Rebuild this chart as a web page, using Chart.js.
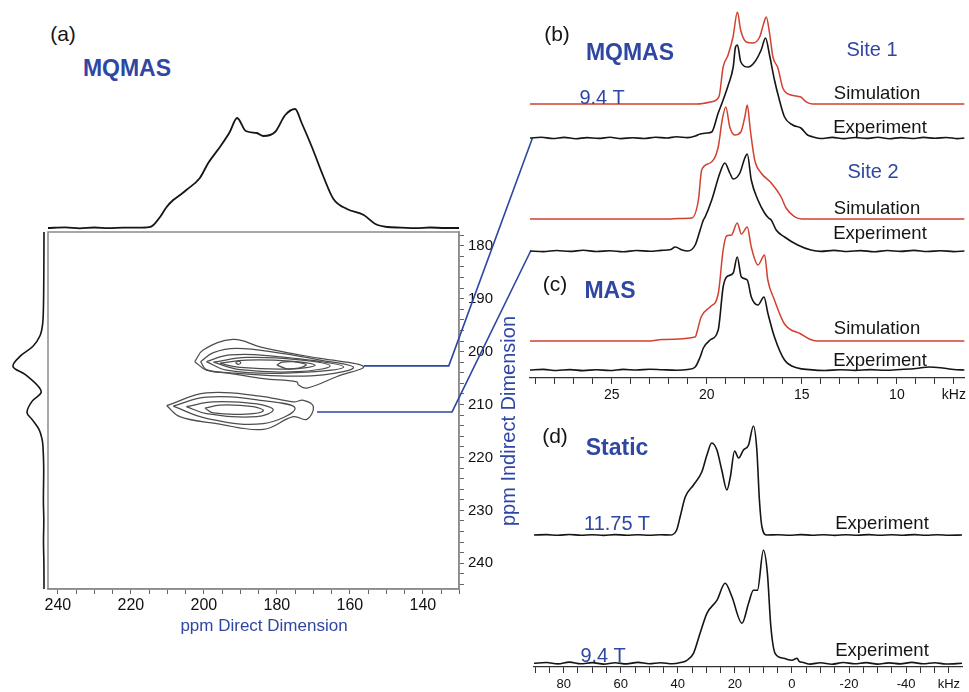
<!DOCTYPE html>
<html lang="en">
<head>
<meta charset="UTF-8">
<title>MQMAS / MAS / Static spectra</title>
<script src="https://cdn.jsdelivr.net/npm/chart.js"></script>
<style>
  body { margin: 0; background: #fff; }
  #fig { position: relative; width: 969px; height: 692px; overflow: hidden; font-family: 'Liberation Sans', Arial, Helvetica, sans-serif; }
  #fig canvas { position: absolute; }
  .t { position: absolute; transform: translate(-50%, -50%); white-space: nowrap; line-height: 1; color: #151515; }
  .blue { color: #2f47a3; }
  .bold { font-weight: bold; }
  .panel { font-size: 21px; }
  .name { font-size: 23px; }
  .trace { font-size: 18.5px; }
  .field { font-size: 20px; }
  .rot { transform: translate(-50%, -50%) rotate(-90deg); }
</style>
</head>
<body>
<div id="fig">
  <canvas id="topProj" width="411" height="130" style="left:48px;top:100px"></canvas>
  <canvas id="leftProj" width="43" height="357" style="left:5px;top:232px"></canvas>
  <canvas id="map2d" width="500" height="515" style="left:40px;top:130px"></canvas>
  <canvas id="mqmas" width="444" height="405" style="left:525px;top:0px"></canvas>
  <canvas id="static" width="444" height="292" style="left:525px;top:400px"></canvas>

  <div class="t panel" style="left:63px;top:33px">(a)</div>
  <div class="t name bold blue" style="left:127px;top:68px">MQMAS</div>
  <div class="t blue" style="left:264px;top:625px;font-size:17px">ppm Direct Dimension</div>
  <div class="t blue rot" style="left:508px;top:421px;font-size:20px">ppm Indirect Dimension</div>

  <div class="t panel" style="left:557px;top:33px">(b)</div>
  <div class="t name bold blue" style="left:630px;top:52px">MQMAS</div>
  <div class="t field blue" style="left:872px;top:49px">Site 1</div>
  <div class="t field blue" style="left:602px;top:97px">9.4 T</div>
  <div class="t trace" style="left:877px;top:93px">Simulation</div>
  <div class="t trace" style="left:880px;top:127px">Experiment</div>
  <div class="t field blue" style="left:873px;top:171px">Site 2</div>
  <div class="t trace" style="left:877px;top:208px">Simulation</div>
  <div class="t trace" style="left:880px;top:233px">Experiment</div>

  <div class="t panel" style="left:555px;top:283px">(c)</div>
  <div class="t name bold blue" style="left:610px;top:290px">MAS</div>
  <div class="t trace" style="left:877px;top:328px">Simulation</div>
  <div class="t trace" style="left:880px;top:360px">Experiment</div>

  <div class="t panel" style="left:555px;top:435px">(d)</div>
  <div class="t name bold blue" style="left:617px;top:447px">Static</div>
  <div class="t field blue" style="left:617px;top:523px">11.75 T</div>
  <div class="t trace" style="left:882px;top:523px">Experiment</div>
  <div class="t field blue" style="left:603px;top:655px">9.4 T</div>
  <div class="t trace" style="left:882px;top:650px">Experiment</div>
</div>

<script>
  // ---- (a) 2D MQMAS: projections [ppm, intensity] ----
  const topProjection = [[242.7,0],[238,0.6],[234,-0.3],[230,0.5],[226,-0.2],[222,0.4],[218,0.3],[215,0.8],[213.9,2.7],[212,11],[210.2,21],[208.4,28],[206.5,33],[204.8,38],[201.1,50],[198.8,65],[195.6,81],[192.9,96],[190.9,110],[188.5,97],[185.5,95],[183.7,92],[180.5,96],[177.7,113],[175.0,119],[173.2,105],[170.4,81],[167.2,51],[164.5,29],[160.8,19],[156.2,13],[153.0,4],[149.8,1],[146,0.4],[142,-0.2],[138,0.5],[134,0],[130.1,0]];
  const leftProjection = [[177.4,0],[186,0.2],[192,0.6],[195,1.5],[197,4],[199,11],[200.9,24],[202.8,31],[204.3,19],[206.5,6],[207.8,3],[209.4,12],[211.5,17],[212.8,12],[214.7,5],[216.5,2],[218,1],[222,0.3],[228,0.6],[232,0.2],[236,0.5],[240,0.1],[244.86,0]];

  // contour levels [direct ppm, indirect ppm]
  const site1Contours = [
    [[202.5,201.9],[200.2,199.7],[192.0,197.7],[184.6,199.1],[176.4,200.3],[168.1,201.3],[156.3,202.8],[163.5,204.7],[171.8,206.9],[174.1,206.3],[174.5,205.7],[183.7,205.1],[192.9,204.1],[199.3,203.5],[202.5,201.9]],
    [[200.9,201.9],[197.4,200.2],[191.0,199.4],[179.1,200.3],[168.1,201.6],[159.0,203.0],[167.2,204.4],[179.1,204.6],[192.9,204.0],[199.3,203.4],[200.9,201.9]],
    [[199.3,201.9],[192.9,200.6],[179.1,201.0],[161.7,202.9],[179.1,204.1],[193.8,203.5],[199.3,201.9]],
    [[197.4,202.0],[188.3,201.1],[174.5,201.5],[165.4,202.7],[174.5,203.8],[190.1,203.4],[197.4,202.0]],
    [[195.6,202.2],[188.3,201.6],[176.4,201.8],[169.5,202.6],[176.4,203.3],[190.1,203.0],[195.6,202.2]],
    [[180.0,202.5],[178.5,202.0],[175.5,201.9],[172.5,202.3],[172.0,202.6],[174.0,203.1],[177.5,203.2],[180.0,202.5]],
    [[191.3,202.1],[190.6,201.8],[189.9,202.1],[190.6,202.4],[191.3,202.1]]
  ];
  const site2Contours = [
    [[210.2,210.2],[199.3,207.8],[184.6,208.4],[175.5,209.5],[172.7,209.2],[170.0,210.4],[171.8,212.8],[175.5,212.3],[183.7,214.7],[196.5,213.6],[206.6,212.3],[210.2,210.2]],
    [[208.4,210.3],[199.3,208.6],[184.6,209.2],[175.0,210.7],[183.7,213.6],[199.3,212.6],[208.4,210.3]],
    [[204.8,210.4],[197.4,209.5],[185.5,209.9],[181.0,211.0],[185.5,212.3],[199.3,211.7],[204.8,210.4]],
    [[199.7,210.7],[195.6,210.1],[186.5,210.4],[183.7,211.2],[188.3,211.8],[197.4,211.6],[199.7,210.7]]
  ];
  // guide lines from each site to its 1D slice
  const site1Link = [[156.2,202.7],[132.9,202.7],[110.0,159.7]];
  const site2Link = [[169.0,211.4],[132.0,211.4],[110.4,180.9]];

  const directLabels = [240, 220, 200, 180, 160, 140];
  const indirectLabels = [180, 190, 200, 210, 220, 230, 240];

  // ---- (b) MQMAS slices and (c) MAS, [kHz, intensity] ----
  const site1Sim = [[29.3,0],[20.5,0],[19.74,2.3],[19.36,7.3],[19.14,37],[18.88,49],[18.62,67],[18.39,92],[18.22,74],[17.92,62],[17.57,61],[17.22,67],[17.0,81],[16.87,87],[16.70,71],[16.52,47],[16.26,36],[16.0,16],[15.57,9],[15.05,7],[14.79,2.3],[14.44,0],[6.45,0]];
  const site1Exp = [[29.3,0],[28.7,0.8],[28.1,-0.5],[27.5,0.6],[26.9,-0.7],[26.3,0.4],[25.7,-0.4],[25.1,0.7],[24.5,-0.6],[23.9,0.3],[23.3,-0.5],[22.7,0.8],[22.1,0],[21.6,1.2],[21.0,0.4],[20.6,2],[20.35,4],[20.0,5],[19.74,6],[19.40,25],[19.14,38],[18.87,53],[18.61,71],[18.49,91],[18.39,93],[18.21,76],[17.83,71],[17.48,76],[17.14,88],[16.91,100],[16.70,83],[16.44,58],[16.18,38],[15.91,21],[15.48,13],[15.05,10],[14.70,3],[14.44,1.3],[14.0,-0.5],[13.4,0.6],[12.8,-0.6],[12.2,0.5],[11.6,-0.4],[11.0,0.7],[10.4,-0.7],[9.8,0.4],[9.2,-0.5],[8.6,0.6],[8.0,-0.3],[7.4,0.5],[6.8,-0.6],[6.45,0]];
  const site2Sim = [[29.3,0],[22,0],[21.5,0.5],[20.79,1],[20.44,19],[20.27,49],[19.83,56],[19.4,72],[19.19,99],[19.0,112],[18.79,92],[18.53,84],[18.21,87],[18.0,102],[17.87,114],[17.71,89],[17.48,59],[17.14,46],[16.61,36],[16.09,22],[15.83,11],[15.39,2.3],[15.0,0],[6.45,0]];
  const site2Exp = [[29.3,0],[28.6,-0.6],[27.9,0.5],[27.2,-0.4],[26.5,0.7],[25.8,-0.5],[25.1,0.3],[24.4,-0.7],[23.7,0.5],[23.0,-0.3],[22.4,0.6],[21.9,1.5],[21.66,4],[21.3,1],[21.0,0],[20.61,6],[20.35,21],[20.18,31],[20.09,34],[19.74,51],[19.31,78],[19.05,88],[18.79,78],[18.61,72],[18.26,78],[18.0,93],[17.87,97],[17.66,71],[17.31,51],[16.96,38],[16.75,33],[16.61,31],[16.35,21],[15.91,14],[15.22,6],[14.52,1],[14.0,-0.4],[13.3,0.6],[12.6,-0.5],[11.9,0.4],[11.2,-0.7],[10.5,0.5],[9.8,-0.4],[9.1,0.6],[8.4,-0.5],[7.7,0.3],[7.0,-0.6],[6.45,0]];
  const masSim = [[29.3,0],[23,0],[22.35,1.4],[20.61,4],[20.5,10],[20.30,24],[19.83,34],[19.40,47],[19.14,91],[18.96,105],[18.70,106],[18.40,118],[18.18,107],[17.87,114],[17.66,94],[17.31,76],[16.96,86],[16.79,61],[16.44,41],[15.91,17],[15.05,7],[14.61,2],[14.2,0],[6.45,0]];
  const masExp = [[29.3,0],[28.6,0.6],[27.9,-0.5],[27.2,0.4],[26.5,-0.6],[25.8,0.3],[25.1,-0.5],[24.4,0.6],[23.7,0],[23.0,0.8],[22.35,0.3],[21.6,-0.2],[21.0,0.5],[20.61,3],[20.35,13],[20.18,22],[19.83,30],[19.40,40],[19.14,83],[18.96,93],[18.61,97],[18.40,113],[18.18,93],[17.87,90],[17.66,73],[17.31,65],[16.99,73],[16.79,57],[16.44,33],[15.91,10],[15.22,2],[14.6,0.4],[13.8,-0.5],[13.0,0.3],[12.2,-0.4],[11.4,0.4],[10.6,-0.3],[9.8,0.5],[9.0,1.5],[8.3,3],[7.6,2],[7.0,0.5],[6.45,0]];
  const masTickLabels = { 25: '25', 20: '20', 15: '15', 10: '10', 7: 'kHz' };

  // ---- (d) static spectra, [kHz, intensity] ----
  const static1175 = [[90.4,0],[86,0.4],[82,-0.3],[78,0.5],[74,-0.3],[70,0.3],[66,-0.4],[62,0.4],[58,-0.2],[54,0.3],[50,-0.3],[46,0.2],[42.7,0],[40.4,5],[39.2,18],[37.4,38],[34.5,50],[31.6,63],[29.8,80],[28.1,92],[26.3,85],[24.6,65],[22.8,45],[21.6,58],[20.1,84],[18.7,77],[17.0,85],[15.2,90],[13.5,109],[12.3,85],[11.4,35],[10.5,8],[8.8,0],[5,0.3],[1,-0.3],[-3,0.4],[-7,-0.2],[-11,0.3],[-15,-0.4],[-19,0.3],[-23,-0.2],[-27,0.4],[-31,-0.3],[-35,0.3],[-39,-0.2],[-43,0.4],[-47,-0.3],[-51,0.3],[-55,-0.2],[-59.6,0]];
  const static94 = [[90.4,0],[86,0.8],[82,-0.6],[78,1.2],[74,-0.5],[70,0.7],[66,-0.8],[62,0.5],[58,-0.6],[54,0.9],[50,-0.4],[46,0.6],[42,-0.5],[39,0.8],[36.8,3],[34.5,10],[32.2,30],[29.8,50],[26.3,63],[23.4,80],[21.1,67],[17.5,40],[15.2,60],[13.5,73],[12.1,73],[10.0,113],[8.6,90],[7.4,37],[5.9,10],[2.9,5],[0,3],[-1.8,5],[-2.5,2],[-4,0.8],[-6.4,-0.8],[-10,0.6],[-14,-0.9],[-18,0.8],[-22,-0.5],[-26,0.7],[-30,-0.8],[-34,0.4],[-38,-0.6],[-42,0.9],[-46,-0.5],[-50,0.6],[-54,-0.7],[-59.6,0]];
  const staticTickLabels = { 80: '80', 60: '60', 40: '40', 20: '20', 0: '0', '-20': '-20', '-40': '-40', '-55': 'kHz' };

  // ---------------------------------------------------------------
  Chart.defaults.font.family = "'Liberation Sans', Arial, Helvetica, sans-serif";
  Chart.defaults.color = '#111';

  const BLUE = '#2f47a3', RED = '#d2402f', INK = '#151515', FRAME = '#8a8a8a';

  // stack offsets of the 1D traces (same units as the hidden y scales)
  const OFFSET = { site1Sim: 274, site1Exp: 240, site2Sim: 159, site2Exp: 127, masSim: 37, masExp: 8, s1175: 132, s94: 3.7 };

  function pts(arr, offset) {
    return arr.map(p => ({ x: p[0], y: p[1] + (offset || 0) }));
  }
  function flip(arr) { // vertical projection: x = intensity, y = ppm
    return arr.map(p => ({ x: p[1], y: p[0] }));
  }
  function steps(from, to, step) {
    const out = [];
    for (let v = from; step > 0 ? v <= to : v >= to; v += step) out.push(v);
    return out;
  }
  function trace(data, color, width, extra) {
    return Object.assign({
      data, borderColor: color, borderWidth: width, pointRadius: 0, showLine: true,
      fill: false, clip: false, cubicInterpolationMode: 'monotone'
    }, extra || {});
  }
  function options(scales, padding) {
    return {
      responsive: false, animation: false, devicePixelRatio: 1, events: [],
      layout: { padding },
      plugins: { legend: { display: false }, tooltip: { enabled: false } },
      scales
    };
  }
  function hidden(min, max, reverse) {
    return { type: 'linear', display: false, min, max, reverse: !!reverse };
  }
  function fixedTicks(values) {
    return s => { s.ticks = values.map(v => ({ value: v })); };
  }

  // frame round the 2D plot
  const frame = {
    id: 'frame',
    beforeDatasetsDraw(chart) {
      const { ctx, chartArea: a } = chart;
      ctx.save();
      ctx.strokeStyle = FRAME;
      ctx.lineWidth = 1.5;
      ctx.strokeRect(a.left, a.top, a.right - a.left, a.bottom - a.top);
      ctx.restore();
    }
  };

  // top projection
  new Chart(document.getElementById('topProj'), {
    type: 'scatter',
    data: { datasets: [trace(pts(topProjection), INK, 1.8)] },
    options: options({ x: hidden(130.1, 242.7, true), y: hidden(-2, 128) }, 0)
  });

  // left projection
  new Chart(document.getElementById('leftProj'), {
    type: 'scatter',
    data: { datasets: [trace(flip(leftProjection), INK, 1.6, { cubicInterpolationMode: 'default', tension: 0.35 })] },
    options: options({ x: hidden(-4, 39, true), y: hidden(177.4, 244.86, true) }, 0)
  });

  // 2D contour map
  const contourSets = site1Contours.concat(site2Contours).map(c =>
    trace(pts(c), '#4d4d4d', 1.25, { cubicInterpolationMode: 'default', tension: 0.4 }));
  const linkSets = [site1Link, site2Link].map(l =>
    trace(pts(l), BLUE, 1.6, { cubicInterpolationMode: 'default', tension: 0 }));

  new Chart(document.getElementById('map2d'), {
    type: 'scatter',
    data: { datasets: contourSets.concat(linkSets) },
    options: options({
      x: {
        type: 'linear', position: 'bottom', reverse: true, min: 130.1, max: 242.7,
        afterBuildTicks: fixedTicks(steps(240, 130, -5)),
        afterFit: s => { s.height = 56; },
        grid: { drawOnChartArea: false, tickLength: 5, tickColor: '#666' },
        border: { color: FRAME, width: 1.5 },
        ticks: { autoSkip: false, maxRotation: 0, padding: 2, font: { size: 16 }, color: '#111',
          callback: v => directLabels.includes(v) ? String(v) : '' }
      },
      y: {
        type: 'linear', position: 'right', reverse: true, min: 177.4, max: 244.86,
        afterBuildTicks: fixedTicks(steps(178, 244, 2)),
        afterFit: s => { s.width = 81; },
        grid: { drawOnChartArea: false, tickLength: 5, tickColor: '#666' },
        border: { color: FRAME, width: 1.5 },
        ticks: { autoSkip: false, padding: 4, font: { size: 15 }, color: '#111',
          callback: v => indirectLabels.includes(v) ? String(v) : '' }
      }
    }, { left: 8, top: 102, right: 0, bottom: 0 }),
    plugins: [frame]
  });

  // (b) + (c)
  new Chart(document.getElementById('mqmas'), {
    type: 'scatter',
    data: {
      datasets: [
        trace(pts(site1Sim, OFFSET.site1Sim), RED, 1.5),
        trace(pts(site1Exp, OFFSET.site1Exp), INK, 1.6),
        trace(pts(site2Sim, OFFSET.site2Sim), RED, 1.5),
        trace(pts(site2Exp, OFFSET.site2Exp), INK, 1.6),
        trace(pts(masSim, OFFSET.masSim), RED, 1.5),
        trace(pts(masExp, OFFSET.masExp), INK, 1.6)
      ]
    },
    options: options({
      x: {
        type: 'linear', position: 'bottom', reverse: true, min: 6.45, max: 29.3,
        afterBuildTicks: fixedTicks(steps(29, 7, -1)),
        afterFit: s => { s.height = 27; },
        grid: { drawOnChartArea: false, tickLength: 6, tickColor: '#333' },
        border: { color: '#333', width: 1.2 },
        ticks: { autoSkip: false, maxRotation: 0, padding: 3, font: { size: 14 }, color: '#111',
          callback: v => masTickLabels[v] || '' }
      },
      y: hidden(0, 368)
    }, { left: 5, top: 10, right: 1, bottom: 0 })
  });

  // (d) static
  new Chart(document.getElementById('static'), {
    type: 'scatter',
    data: {
      datasets: [
        trace(pts(static1175, OFFSET.s1175), INK, 1.6),
        trace(pts(static94, OFFSET.s94), INK, 1.6)
      ]
    },
    options: options({
      x: {
        type: 'linear', position: 'bottom', reverse: true, min: -59.6, max: 90.4,
        afterBuildTicks: fixedTicks(steps(90, -55, -5)),
        afterFit: s => { s.height = 25; },
        grid: { drawOnChartArea: false, tickLength: 6, tickColor: '#333' },
        border: { color: '#333', width: 1.2 },
        ticks: { autoSkip: false, maxRotation: 0, padding: 4, font: { size: 13 }, color: '#111',
          callback: v => staticTickLabels[v] || '' }
      },
      y: hidden(0, 252)
    }, { left: 9, top: 15, right: 7, bottom: 0 })
  });
</script>
</body>
</html>
